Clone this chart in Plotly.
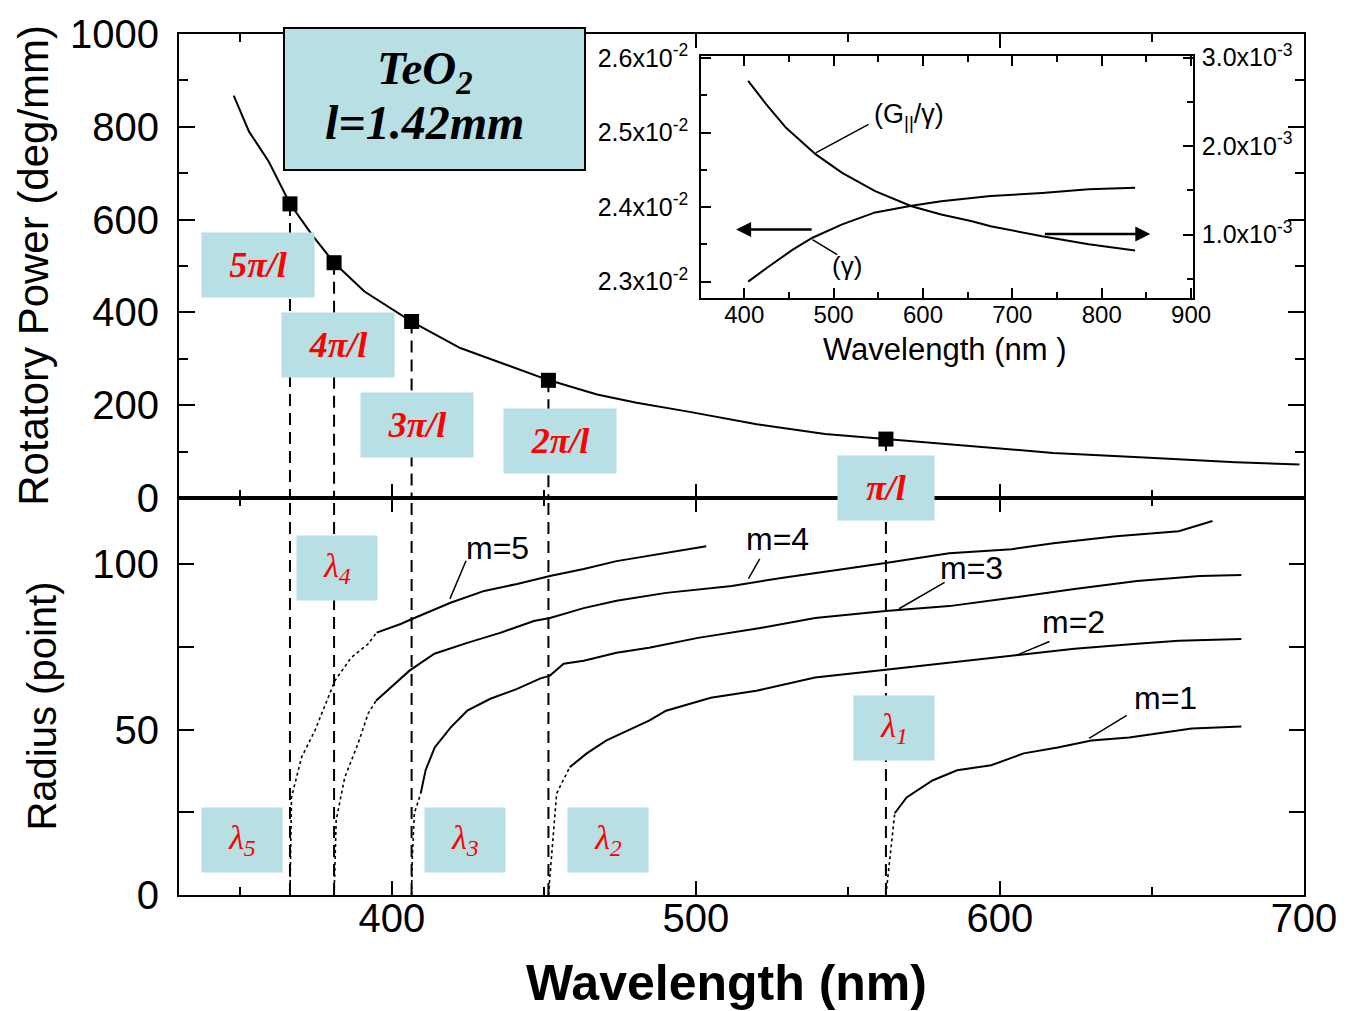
import plotly.graph_objects as go

# ---------------- data ----------------
# rotatory power of TeO2 (top panel)
wl_rp = [348, 353, 359.5, 366.5, 374, 381, 391, 406.5, 422.5, 439, 451.5, 467.5,
         480.5, 497.5, 520, 542.5, 562.5, 587.5, 617.5, 647.5, 677.5, 698.5]
rot_power = [867, 790, 725, 634, 565, 507, 445, 380, 323, 284, 254, 223,
             205, 186, 159, 138, 127, 112, 97, 87, 77, 72]

# wavelengths where the rotation through l equals m*pi
wl_marks = [366.5, 381.0, 406.5, 451.5, 562.5]
rp_marks = [633.8, 507.0, 380.3, 253.5, 126.8]
mark_labels = ["5π/l", "4π/l", "3π/l", "2π/l", "π/l"]
lambda_labels = ["λ<sub>5</sub>", "λ<sub>4</sub>", "λ<sub>3</sub>", "λ<sub>2</sub>", "λ<sub>1</sub>"]

# ring radius vs wavelength for orders m=1..5 (onset part + main part)
m1_on_wl = [562.5, 563.5, 564.5, 565.4]
m1_on_r = [0, 9, 17, 24.7]
m1_wl = [565.4, 569.3, 577.8, 585.9, 597.1, 607.8, 619.0, 630.1, 642.5, 653.3, 663.1, 679.4]
m1_r = [24.7, 29.5, 34.6, 37.7, 39.2, 42.8, 44.6, 46.7, 47.6, 49.1, 50.3, 50.9]

m2_on_wl = [451.5, 452.5, 453.3, 454.2, 458.5]
m2_on_r = [0, 12, 22, 30.7, 38.6]
m2_wl = [458.5, 464.1, 470.6, 479.4, 484.6, 490.2, 504.9, 519.9, 539.2, 562.4, 583.3,
         605.2, 624.5, 645.1, 658.8, 679.4]
m2_r = [38.6, 42.8, 46.7, 50.6, 52.7, 55.7, 59.6, 61.7, 65.7, 68.1, 70.2,
        72.3, 74.4, 75.9, 76.8, 77.4]

m3_on_wl = [406.5, 406.7, 407.4, 409.5]
m3_on_r = [0, 10.5, 24.7, 30.7]
m3_wl = [409.5, 411.1, 414.1, 419.3, 424.8, 432.4, 441.2, 448.7, 452.0, 456.5, 463.1,
         473.9, 484.6, 500.7, 521.2, 539.2, 562.4, 583.3, 603.9, 624.5, 645.1, 665.7, 679.4]
m3_r = [30.7, 37.7, 44.6, 50.6, 55.7, 59.3, 62.3, 65.4, 66.3, 69.9, 70.8,
        73.2, 74.7, 77.7, 80.7, 83.7, 85.8, 87.3, 89.8, 92.5, 94.9, 96.4, 96.7]

m4_on_wl = [381.0, 381.5, 381.7, 384.5, 388.9, 392.2, 394.8]
m4_on_r = [0, 12, 22.6, 35.5, 45.8, 54.8, 58.7]
m4_wl = [394.8, 400.9, 405.8, 414.0, 424.8, 435.6, 446.7, 452.0, 463.1, 473.9, 490.2,
         511.8, 528.1, 548.7, 562.4, 583.3, 603.9, 617.6, 638.2, 658.8, 669.9]
m4_r = [58.7, 63.9, 67.8, 72.9, 76.2, 79.2, 82.8, 83.7, 86.7, 88.9, 91.3,
        93.4, 95.8, 98.5, 100.3, 103.3, 104.5, 106.3, 108.4, 109.9, 113.0]

m5_on_wl = [366.5, 366.7, 367.0, 370.3, 374.7, 381.3, 386.6, 392.2, 395.0]
m5_on_r = [0, 15, 29.5, 41.6, 49.7, 64.8, 71.7, 75.9, 79.3]
m5_wl = [395.0, 402.9, 407.4, 419.3, 430.4, 441.2, 452.0, 463.1, 473.9, 490.2, 503.4]
m5_r = [79.3, 81.9, 83.7, 88.3, 91.9, 94.0, 96.4, 98.5, 100.9, 103.3, 105.4]

# inset: gamma and G||/gamma vs wavelength
gamma_wl = [404.4, 424.7, 454.3, 476.4, 509.6, 546.5, 587.2, 620.4, 675.7, 733.3, 785.4, 837.4]
gamma = [0.02300, 0.02318, 0.02343, 0.02359, 0.02377, 0.02393, 0.02402, 0.02408,
         0.02415, 0.02419, 0.02424, 0.02426]
g_wl = [404.4, 424.7, 446.8, 480.1, 509.6, 546.5, 587.2, 620.4, 654.8, 675.7, 733.3, 785.4, 837.4]
g_over_gamma = [2.736e-3, 2.472e-3, 2.207e-3, 1.906e-3, 1.697e-3, 1.490e-3, 1.320e-3,
                1.226e-3, 1.150e-3, 1.094e-3, 0.980e-3, 0.890e-3, 0.819e-3]

x_ticks = [400, 500, 600, 700]
rp_ticks = [0, 200, 400, 600, 800, 1000]
r_ticks = [0, 50, 100]
ins_x_ticks = [400, 500, 600, 700, 800, 900]
gamma_ticks = [0.023, 0.024, 0.025, 0.026]
gamma_text = ["2.3x10<sup>-2</sup>", "2.4x10<sup>-2</sup>", "2.5x10<sup>-2</sup>", "2.6x10<sup>-2</sup>"]
g_ticks = [0.001, 0.002, 0.003]
g_text = ["1.0x10<sup>-3</sup>", "2.0x10<sup>-3</sup>", "3.0x10<sup>-3</sup>"]

R_TOP = 120

SANS = "Liberation Sans, Arial, sans-serif"
SERIF = "Liberation Serif, Times New Roman, serif"
BOX = "#b8dfe3"

fig = go.Figure()

# rotatory power curve
fig.add_trace(go.Scatter(x=wl_rp, y=rot_power, xaxis="x2", yaxis="y2", mode="lines",
                         line=dict(color="black", width=2)))

# dashed verticals from each point down through the radius panel
vx_top, vy_top, vx_bot, vy_bot = [], [], [], []
for w, p in zip(wl_marks, rp_marks):
    vx_top += [w, w, None]
    vy_top += [p, 0, None]
    vx_bot += [w, w, None]
    vy_bot += [0, R_TOP, None]
dash = dict(color="black", width=2, dash="12px,7px")
fig.add_trace(go.Scatter(x=vx_top, y=vy_top, xaxis="x2", yaxis="y2", mode="lines", line=dash))
fig.add_trace(go.Scatter(x=vx_bot, y=vy_bot, xaxis="x", yaxis="y", mode="lines", line=dash))

# m*pi/l points
fig.add_trace(go.Scatter(x=wl_marks, y=rp_marks, xaxis="x2", yaxis="y2", mode="markers",
                         marker=dict(symbol="square", size=15, color="black")))

# radius curves
orders = [
    (m1_on_wl, m1_on_r, m1_wl, m1_r),
    (m2_on_wl, m2_on_r, m2_wl, m2_r),
    (m3_on_wl, m3_on_r, m3_wl, m3_r),
    (m4_on_wl, m4_on_r, m4_wl, m4_r),
    (m5_on_wl, m5_on_r, m5_wl, m5_r),
]
for on_x, on_y, sx, sy in orders:
    fig.add_trace(go.Scatter(x=on_x, y=on_y, xaxis="x", yaxis="y", mode="lines",
                             line=dict(color="black", width=1.6, dash="3px,3px")))
    fig.add_trace(go.Scatter(x=sx, y=sy, xaxis="x", yaxis="y", mode="lines",
                             line=dict(color="black", width=2)))

# inset curves
fig.add_trace(go.Scatter(x=gamma_wl, y=gamma, xaxis="x3", yaxis="y3", mode="lines",
                         line=dict(color="black", width=2)))
fig.add_trace(go.Scatter(x=g_wl, y=g_over_gamma, xaxis="x3", yaxis="y4", mode="lines",
                         line=dict(color="black", width=2)))

# ---------------- axes ----------------
axis_common = dict(showline=True, linecolor="black", linewidth=2, showgrid=False,
                   zeroline=False, ticks="inside", tickcolor="black", tickwidth=2,
                   mirror="ticks")
main_font = dict(family=SANS, size=40, color="black")
ins_font = dict(family=SANS, size=24, color="black")

y_split = 0.4612

fig.update_layout(
    xaxis=dict(**axis_common, domain=[0, 1], range=[330, 700], anchor="y",
               tickvals=x_ticks, ticklen=14, tickfont=main_font, ticklabelstandoff=-13,
               minor=dict(tickvals=[350, 450, 550, 650], ticks="inside", ticklen=8,
                          tickwidth=2, tickcolor="black", showgrid=False)),
    yaxis=dict(**axis_common, domain=[0, y_split], range=[0, R_TOP], anchor="x",
               tickvals=r_ticks, ticklen=15, tickfont=main_font, ticklabelstandoff=10,
               minor=dict(tickvals=[25, 75], ticks="inside", ticklen=15,
                          tickwidth=2, tickcolor="black", showgrid=False)),
    xaxis2=dict(**axis_common, domain=[0, 1], range=[330, 700], anchor="y2", matches="x",
                tickvals=x_ticks, ticklen=14, showticklabels=False,
                minor=dict(tickvals=[350, 450, 550, 650], ticks="inside", ticklen=8,
                           tickwidth=2, tickcolor="black", showgrid=False)),
    yaxis2=dict(**axis_common, domain=[y_split, 1], range=[0, 1000], anchor="x2",
                tickvals=rp_ticks, ticklen=16, tickfont=main_font, ticklabelstandoff=10,
                minor=dict(tickvals=[100, 300, 500, 700, 900], ticks="inside", ticklen=9,
                           tickwidth=2, tickcolor="black", showgrid=False)),
    xaxis3=dict(**axis_common, domain=[0.4643, 0.9012], range=[352, 902], anchor="y3",
                tickvals=ins_x_ticks, ticklen=10, tickfont=ins_font, ticklabelstandoff=-6,
                minor=dict(tickvals=[450, 550, 650, 750, 850], ticks="inside", ticklen=6,
                           tickwidth=2, tickcolor="black", showgrid=False)),
    yaxis3=dict(showline=True, linecolor="black", linewidth=2, showgrid=False,
                zeroline=False, ticks="inside", tickcolor="black", tickwidth=2,
                domain=[0.6933, 0.9745], range=[0.02278, 0.02603], anchor="x3", side="left",
                tickvals=gamma_ticks, ticktext=gamma_text, ticklen=10,
                tickfont=dict(family=SANS, size=25, color="black"), ticklabelstandoff=6,
                minor=dict(dtick=0.0005, tick0=0.0225, ticks="inside", ticklen=6,
                           tickwidth=2, tickcolor="black", showgrid=False)),
    yaxis4=dict(showline=True, linecolor="black", linewidth=2, showgrid=False,
                zeroline=False, ticks="inside", tickcolor="black", tickwidth=2,
                overlaying="y3", anchor="x3", side="right", range=[0.000282, 0.003019],
                tickvals=g_ticks, ticktext=g_text, ticklen=10,
                tickfont=dict(family=SANS, size=25, color="black"), ticklabelstandoff=2,
                minor=dict(dtick=0.0005, tick0=0, ticks="inside", ticklen=6,
                           tickwidth=2, tickcolor="black", showgrid=False)),
    width=1349, height=1011, autosize=False,
    margin=dict(l=179, r=37, t=32, b=116, pad=0),
    paper_bgcolor="white", plot_bgcolor="white",
    showlegend=False,
)

# ---------------- annotations ----------------
ann = []

def title(text, x, y, size, angle=0):
    return dict(text=text, xref="paper", yref="paper", x=x, y=y, xanchor="center",
                yanchor="middle", textangle=angle, showarrow=False,
                font=dict(family=SANS, size=size, color="black"))

# axis titles
ann.append(title("Rotatory Power (deg/mm)", -0.1289, 0.732, 42, -90))
ann.append(title("Radius (point)", -0.1218, 0.220, 40, -90))
ann.append(title("<b>Wavelength (nm)</b>", 0.487, -0.102, 50))
ann.append(title("Wavelength (nm )", 0.6805, 0.6338, 31))

# material box
ann.append(dict(text=" ", xref="x2", yref="y2", x=414.1, y=860, showarrow=False,
                width=299, height=140, bgcolor=BOX, bordercolor="black", borderwidth=2,
                borderpad=0))
ann.append(dict(text="<b><i>TeO<sub>2</sub></i></b>", xref="x2", yref="y2", x=410.9, y=920,
                showarrow=False, font=dict(family=SERIF, size=47, color="black")))
ann.append(dict(text="<b><i>l=1.42mm</i></b>", xref="x2", yref="y2", x=410.9, y=809,
                showarrow=False, font=dict(family=SERIF, size=48, color="black")))

# m*pi/l labels
pi_pos = [(356.1, 501), (382.2, 329), (408.3, 157), (455.2, 122.6), (562.4, 20.4)]
pi_w = [112, 112, 112, 112, 96]
for (px, py), w, t in zip(pi_pos, pi_w, mark_labels):
    ann.append(dict(text="<b><i>%s</i></b>" % t, xref="x2", yref="y2", x=px, y=py,
                    showarrow=False, width=w, height=64, bgcolor=BOX, borderpad=0,
                    font=dict(family=SERIF, size=36, color="red")))

# lambda_m labels
lam_pos = [(350.8, 16.7), (382.0, 98.7), (424.0, 16.7), (471.0, 16.7), (565.0, 50.4)]
for (px, py), t in zip(lam_pos, lambda_labels):
    ann.append(dict(text="<i>%s</i>" % t, xref="x", yref="y", x=px, y=py,
                    showarrow=False, width=80, height=64, bgcolor=BOX, borderpad=0,
                    font=dict(family=SERIF, size=34, color="red")))

# order labels
m_text = [("m=5", 434.8, 104.9), ("m=4", 526.9, 107.6), ("m=3", 590.6, 98.9),
          ("m=2", 624.2, 82.6), ("m=1", 654.3, 59.4)]
for t, px, py in m_text:
    ann.append(dict(text=t, xref="x", yref="y", x=px, y=py, showarrow=False,
                    font=dict(family=SANS, size=32, color="black")))

# inset labels and arrows
ann.append(dict(text="(G<sub>||</sub>/γ)", xref="x3", yref="y3", x=542.7, y=0.02522,
                xanchor="left", showarrow=False, font=dict(family=SANS, size=27, color="black")))
ann.append(dict(text="(γ)", xref="x3", yref="y3", x=515.1, y=0.02321,
                showarrow=False, font=dict(family=SANS, size=26, color="black")))
ann.append(dict(text="", xref="x3", yref="y3", x=390.9, y=0.02370, axref="x3", ayref="y3",
                ax=477.1, ay=0.02370, showarrow=True, arrowhead=2, arrowsize=1.2,
                arrowwidth=2.5, arrowcolor="black"))
ann.append(dict(text="", xref="x3", yref="y3", x=854.4, y=0.023641, axref="x3", ayref="y3",
                ax=734.7, ay=0.023641, showarrow=True, arrowhead=2, arrowsize=1.2,
                arrowwidth=2.5, arrowcolor="black"))

fig.update_layout(annotations=ann)

# leader lines from the labels to their curves
leader = dict(color="black", width=1.5)
shapes = [
    dict(type="line", xref="x", yref="y", x0=424.4, y0=101.0, x1=419.1, y1=89.5, line=leader),
    dict(type="line", xref="x", yref="y", x0=521.0, y0=101.6, x1=517.3, y1=95.6, line=leader),
    dict(type="line", xref="x", yref="y", x0=581.8, y0=94.5, x1=566.8, y1=86.5, line=leader),
    dict(type="line", xref="x", yref="y", x0=616.3, y0=76.6, x1=605.3, y1=72.4, line=leader),
    dict(type="line", xref="x", yref="y", x0=641.7, y0=54.3, x1=629.3, y1=47.3, line=leader),
    dict(type="line", xref="x3", yref="y3", x0=539.1, y0=0.025112, x1=480.0, y1=0.024730, line=leader),
    dict(type="line", xref="x3", yref="y3", x0=504.0, y0=0.023364, x1=476.3, y1=0.023565, line=leader),
]
fig.update_layout(shapes=shapes)

fig.write_html("out.html")
